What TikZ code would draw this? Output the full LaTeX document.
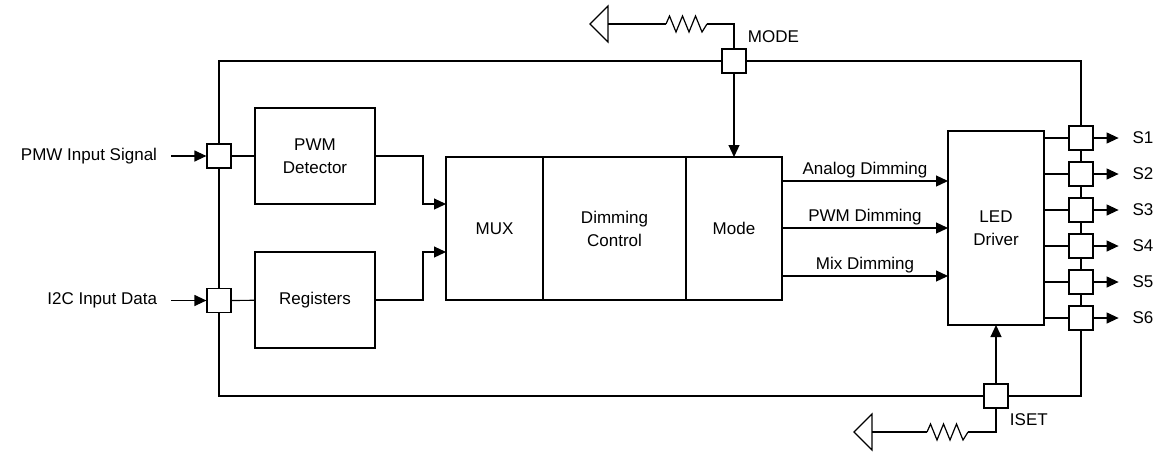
\documentclass[tikz,border=0pt]{standalone}
\usepackage{fontspec}
\setmainfont{Liberation Sans}
\usetikzlibrary{arrows.meta}
\tikzset{
  blk/.style={draw, fill=white, align=center, inner sep=0pt, outer sep=0pt},
  pad/.style={draw, fill=white, minimum size=24pt, inner sep=0pt},
  sig/.style={-{Triangle[length=12pt,width=11pt]}},
  lbl/.style={font=\fontsize{17}{23}\selectfont},
  pinlbl/.style={lbl, inner xsep=4pt, outer xsep=10pt},
  resist/.pic={\draw (0,0) -- (3.5,-8) -- (10,8) -- (16.5,-8) -- (23,8) -- (29.5,-8) -- (36,8) -- (41,0);},
  gnd/.pic={\draw (0,-18) -- (0,18) -- (-18,0) -- cycle;}
}
\begin{document}
\begin{tikzpicture}[x=1pt,y=-1pt,line width=1.2pt]
  \useasboundingbox (0,0) rectangle (1172,451);
  % chip outline
  \draw (219,61) rectangle (1081,396);

  % blocks
  \node[blk, lbl, minimum width=120pt, minimum height=96pt] (det) at (315,156) {PWM\\Detector};
  \node[blk, lbl, minimum width=120pt, minimum height=96pt] (reg) at (315,300) {Registers};
  \node[blk, lbl, minimum width=97pt, minimum height=143pt] (mux) at (494.5,228.5) {MUX};
  \node[blk, lbl, minimum width=143pt, minimum height=143pt, anchor=west] (dim) at (mux.east) {Dimming\\Control};
  \node[blk, lbl, minimum width=96pt, minimum height=143pt, anchor=west] (mode) at (dim.east) {Mode};
  \node[blk, lbl, minimum width=96pt, minimum height=194pt] (led) at (996,228) {LED\\Driver};

  % pads
  \node[pad] (pa) at (219,156) {};
  \node[pad] (pb) at (219,300.5) {};
  \node[pad] (pmode) at (734,61) {};
  \node[pad] (piset) at (996,396) {};
  \foreach \i in {1,...,6}
    \node[pad] (s\i) at (1081,{138+36*(\i-1)}) {};

  % inputs
  \node[pinlbl, anchor=east] (sigin) at (171,156) {PMW Input Signal};
  \node[pinlbl, anchor=east] (i2cin) at (171,300.5) {I2C Input Data};
  \draw[sig] (sigin) -- (pa);
  \draw[sig] (i2cin) -- (pb);
  \draw (pa) -- (det);
  \draw (pb) -- (reg);
  \coordinate (muxa) at (mux.west |- 0,204);
  \coordinate (muxb) at (mux.west |- 0,252);
  \draw[sig] (det.east) -- ++(48,0) |- (muxa);
  \draw[sig] (reg.east) -- ++(48,0) |- (muxb);

  % mode to driver
  \draw[sig] (pmode) -- (mode);
  \draw[sig] (mode.east |- 0,181) -- node[lbl, above, inner ysep=2pt] {Analog Dimming} (led.west |- 0,181);
  \draw[sig] (mode.east |- 0,228) -- node[lbl, above, inner ysep=2pt] {PWM Dimming} (led.west |- 0,228);
  \draw[sig] (mode.east |- 0,276) -- node[lbl, above, inner ysep=2pt] {Mix Dimming} (led.west |- 0,276);

  % outputs
  \foreach \i in {1,...,6} {
    \node[pinlbl, anchor=west] (o\i) at (s\i.east) [xshift=25pt] {S\i};
    \draw (led.east |- s\i) -- (s\i);
    \draw[sig] (s\i) -- (o\i);
  }

  % MODE pin
  \node[lbl, anchor=west] (modelbl) at (744,37) {MODE};
  \coordinate (rm) at (707,24);
  \coordinate (gm) at (608,24);
  \draw (pmode) |- (rm);
  \pic at (666,24) {resist};
  \draw (666,24) -- (gm);
  \pic at (gm) {gnd};

  % ISET pin
  \draw[sig] (piset) -- (led);
  \node[lbl, anchor=west] (isetlbl) at (1006,420) {ISET};
  \coordinate (ri) at (968,432);
  \coordinate (gi) at (872,432);
  \draw (piset) |- (ri);
  \pic at (927,432) {resist};
  \draw (927,432) -- (gi);
  \pic at (gi) {gnd};
\end{tikzpicture}
\end{document}
